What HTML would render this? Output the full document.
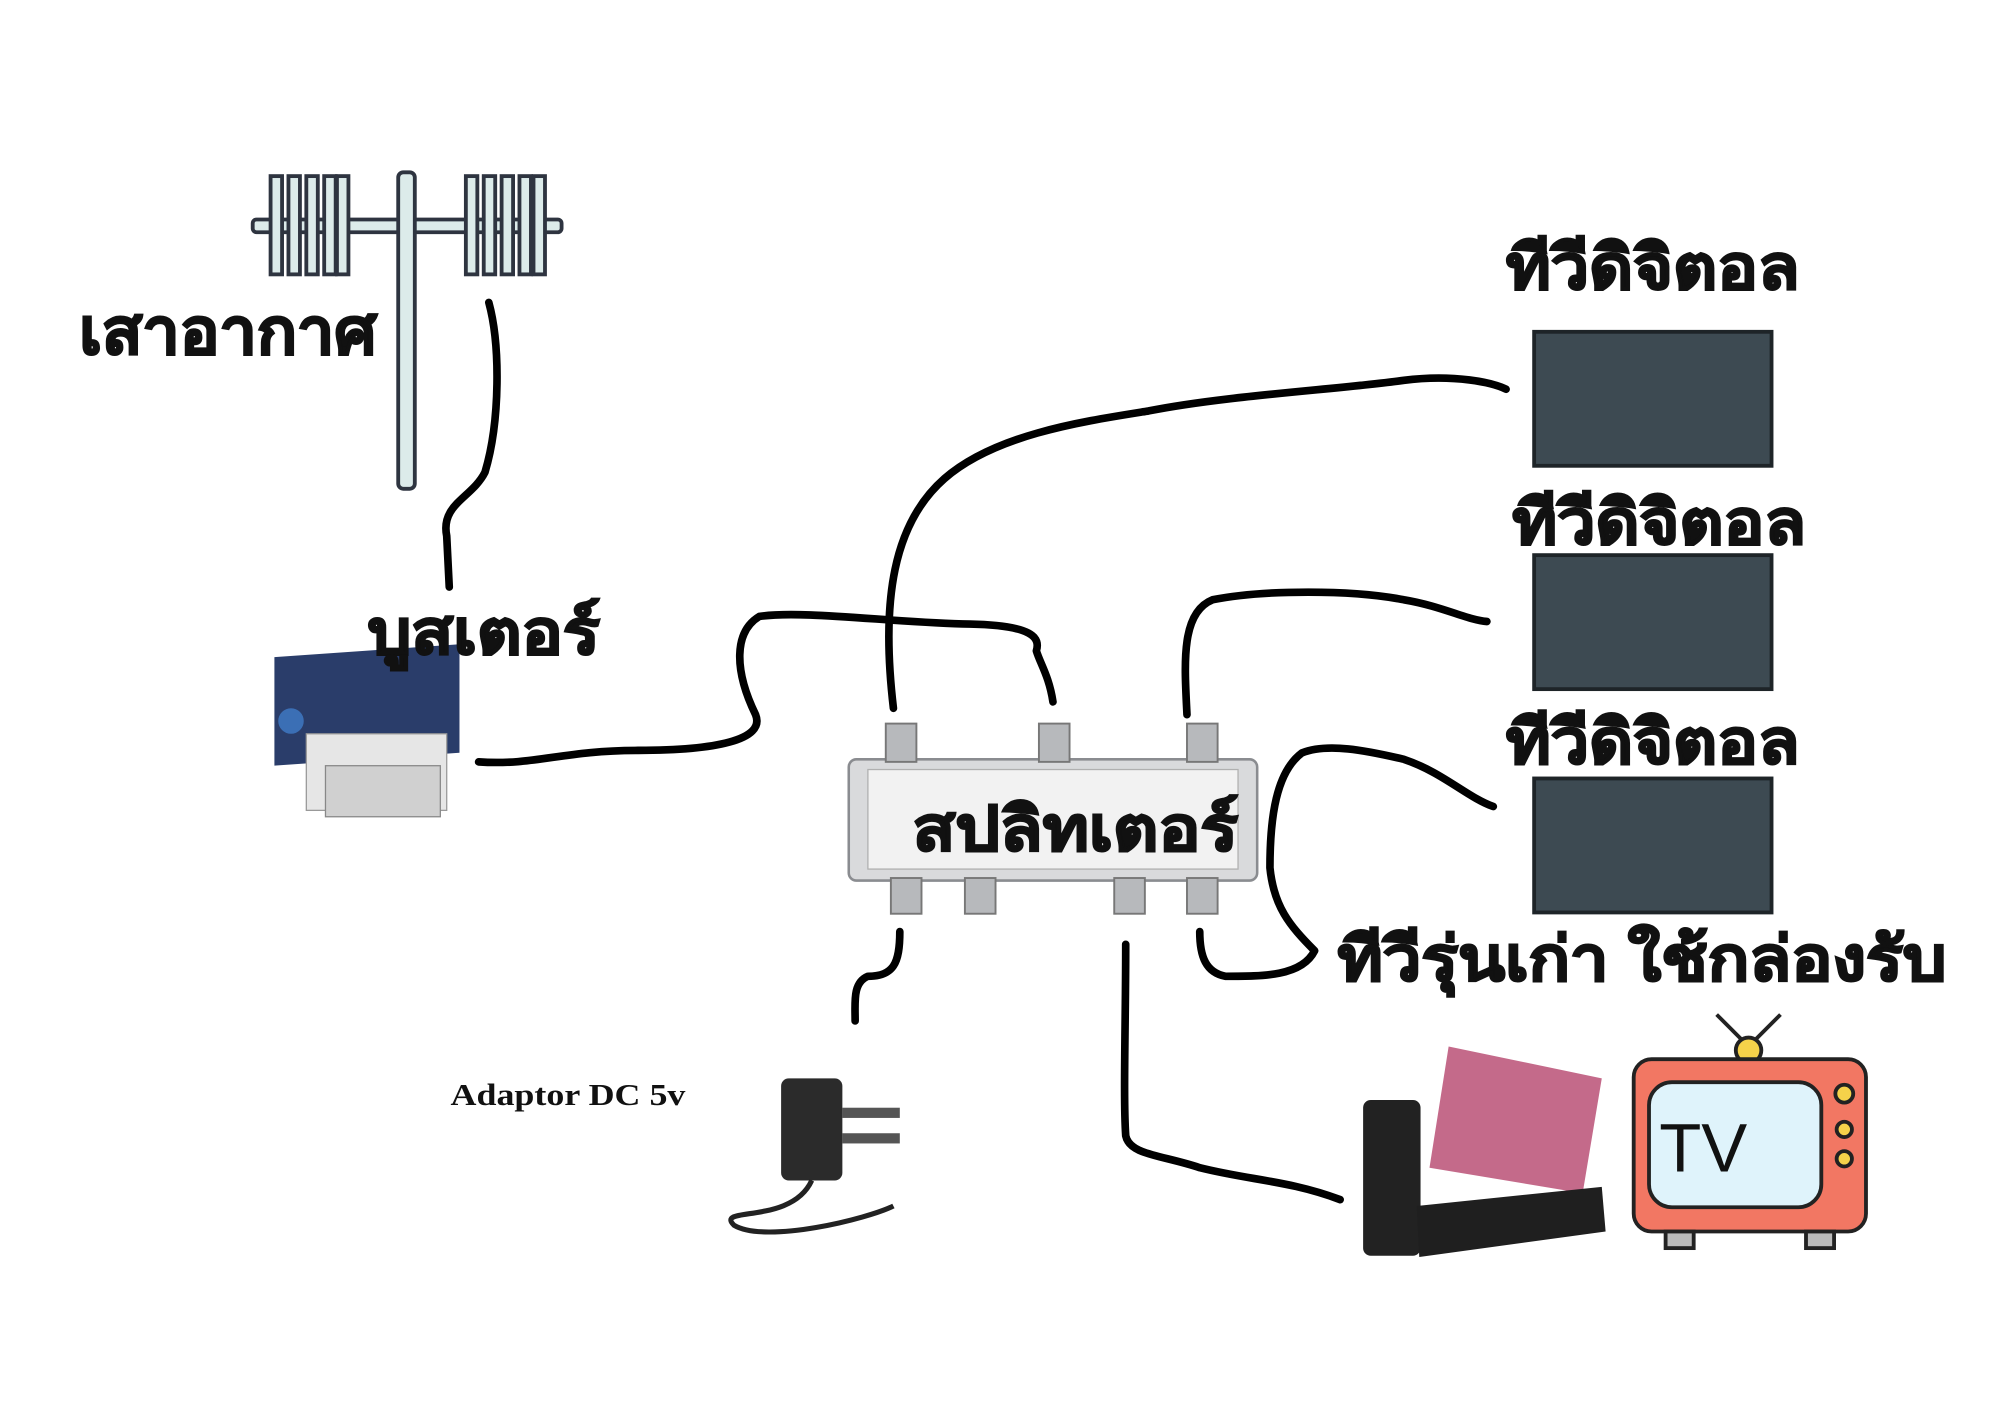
<!DOCTYPE html>
<html><head><meta charset="utf-8"><style>
html,body{margin:0;padding:0;background:#fff;}
svg{display:block}
text{font-family:"Liberation Sans","DejaVu Sans",sans-serif;font-weight:bold;fill:#111}
.th{stroke:#111;stroke-width:1.6}
</style></head><body>
<svg width="2000" height="1414" viewBox="0 0 1567 1108" preserveAspectRatio="none" xmlns="http://www.w3.org/2000/svg">
<rect width="1567" height="1108" fill="#fff"/>
<!-- antenna -->
<g stroke="#2e3440" stroke-width="3" fill="#dcebea">
<rect x="198" y="172" width="242" height="10" rx="3"/>
<rect x="312" y="135" width="13" height="248" rx="4"/>
<rect x="212" y="138" width="9" height="77"/><rect x="226" y="138" width="9" height="77"/><rect x="240" y="138" width="9" height="77"/><rect x="254" y="138" width="9" height="77"/><rect x="264" y="138" width="9" height="77"/>
<rect x="365" y="138" width="9" height="77"/><rect x="379" y="138" width="9" height="77"/><rect x="393" y="138" width="9" height="77"/><rect x="407" y="138" width="9" height="77"/><rect x="418" y="138" width="9" height="77"/>
</g>
<text class="th" x="62" y="277" font-size="50" textLength="233" lengthAdjust="spacingAndGlyphs">เสาอากาศ</text>
<!-- booster -->
<g>
<rect x="215" y="530" width="145" height="85" fill="#2a3d6a" transform="skewY(-4)"/>
<rect x="240" y="575" width="110" height="60" fill="#e6e6e6" stroke="#999"/>
<rect x="255" y="600" width="90" height="40" fill="#d0d0d0" stroke="#888"/>
<circle cx="228" cy="565" r="10" fill="#3b6fb5"/>
</g>
<text class="th" x="288" y="512" font-size="48" textLength="182" lengthAdjust="spacingAndGlyphs">บูสเตอร์</text>
<!-- splitter -->
<g>
<rect x="665" y="595" width="320" height="95" rx="6" fill="#d9dadc" stroke="#8a8c90" stroke-width="2"/>
<rect x="680" y="603" width="290" height="78" fill="#f2f2f2" stroke="#b0b0b0"/>
<g fill="#b7b9bc" stroke="#777" stroke-width="1.5">
<rect x="694" y="567" width="24" height="30"/><rect x="814" y="567" width="24" height="30"/><rect x="930" y="567" width="24" height="30"/>
<rect x="698" y="688" width="24" height="28"/><rect x="756" y="688" width="24" height="28"/><rect x="873" y="688" width="24" height="28"/><rect x="930" y="688" width="24" height="28"/>
</g>
</g>
<text class="th" x="715" y="666" font-size="48" textLength="255" lengthAdjust="spacingAndGlyphs">สปลิทเตอร์</text>
<!-- digital TVs -->
<g fill="#3d4a52" stroke="#1e2428" stroke-width="3">
<rect x="1202" y="260" width="186" height="105"/>
<rect x="1202" y="435" width="186" height="105"/>
<rect x="1202" y="610" width="186" height="105"/>
</g>
<text class="th" x="1180" y="226" font-size="48" textLength="230" lengthAdjust="spacingAndGlyphs">ทีวีดิจิตอล</text>
<text class="th" x="1185" y="426" font-size="48" textLength="230" lengthAdjust="spacingAndGlyphs">ทีวีดิจิตอล</text>
<text class="th" x="1180" y="598" font-size="48" textLength="230" lengthAdjust="spacingAndGlyphs">ทีวีดิจิตอล</text>
<text class="th" x="1048" y="768" font-size="48" textLength="477" lengthAdjust="spacingAndGlyphs">ทีวีรุ่นเก่า ใช้กล่องรับ</text>
<!-- set top box -->
<g>
<polygon points="1135,820 1255,845 1240,935 1120,915" fill="#c46a8a"/>
<rect x="1068" y="862" width="45" height="122" rx="6" fill="#222"/>
<polygon points="1110,945 1255,930 1258,965 1112,985" fill="#1f1f1f"/>
</g>
<!-- old TV -->
<g stroke="#222" stroke-width="3">
<line x1="1345" y1="795" x2="1370" y2="820"/><line x1="1395" y1="795" x2="1370" y2="820"/>
<circle cx="1370" cy="823" r="10" fill="#f5d24a"/>
<rect x="1280" y="830" width="182" height="135" rx="14" fill="#f27763"/>
<rect x="1292" y="848" width="135" height="98" rx="18" fill="#dff3fb"/>
<circle cx="1445" cy="857" r="7" fill="#f5d24a"/><circle cx="1445" cy="885" r="6" fill="#f5d24a"/><circle cx="1445" cy="908" r="6" fill="#f5d24a"/>
<rect x="1305" y="965" width="22" height="13" fill="#bbb"/><rect x="1415" y="965" width="22" height="13" fill="#bbb"/>
</g>
<text x="1300" y="918" font-size="54" style="font-weight:normal">TV</text>
<!-- adaptor -->
<text x="353" y="866" font-size="24" textLength="184" lengthAdjust="spacingAndGlyphs" style="font-family:'Liberation Serif',serif">Adaptor DC 5v</text>
<g>
<rect x="612" y="845" width="48" height="80" rx="6" fill="#2b2b2b"/>
<rect x="660" y="868" width="45" height="8" fill="#555"/><rect x="660" y="888" width="45" height="8" fill="#555"/>
<path d="M636 925 C620 960,560 945,575 960 C600 975,680 955,700 945" stroke="#222" stroke-width="4" fill="none"/>
</g>
<!-- wires -->
<g fill="none" stroke="#000" stroke-width="6" stroke-linecap="round" stroke-linejoin="round">
<path d="M383 237 C392 270,392 330,380 370 C370 390,345 395,350 420 L352 460"/>
<path d="M375 597 C420 600,440 588,500 588 C560 588,600 580,592 560 C575 525,575 495,595 483 C630 478,700 488,760 489 C810 490,815 500,812 510 C815 520,822 530,825 550"/>
<path d="M700 555 C690 470,700 410,740 375 C780 340,850 330,900 322 C960 310,1050 305,1100 298 C1140 293,1170 300,1180 305"/>
<path d="M930 560 C928 520,925 480,950 470 C990 462,1060 462,1100 470 C1130 475,1150 486,1165 487"/>
<path d="M1170 632 C1150 625,1130 605,1100 595 C1070 588,1040 582,1020 590 C1000 605,995 640,995 680 C998 710,1010 725,1030 745 C1020 765,990 765,960 765 C945 762,940 750,940 730"/>
<path d="M705 730 C705 755,700 765,680 765 C668 770,670 785,670 800"/>
<path d="M882 740 C882 800,880 860,882 890 C885 905,910 905,940 915 C980 925,1010 925,1050 940"/>
</g>
</svg>
</body></html>
